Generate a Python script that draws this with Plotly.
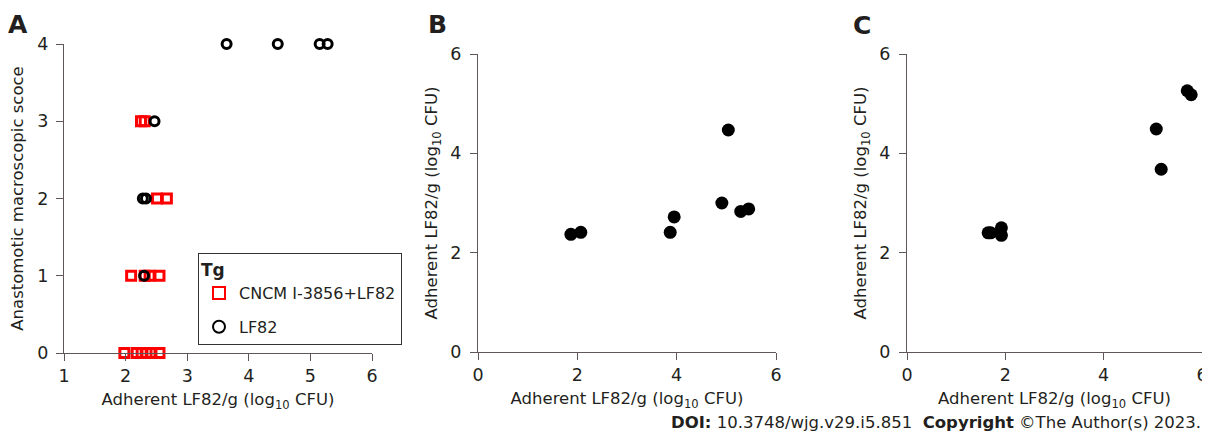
import plotly.graph_objects as go

# Panel A data
a_red_x = [1.98, 2.18, 2.26, 2.34, 2.42, 2.55, 2.09, 2.31, 2.39, 2.55, 2.51, 2.67, 2.25, 2.31]
a_red_y = [0, 0, 0, 0, 0, 0, 1, 1, 1, 1, 2, 2, 3, 3]
a_blk_x = [2.30, 2.28, 2.33, 2.47, 3.64, 4.47, 5.15, 5.28]
a_blk_y = [1, 2, 2, 3, 4, 4, 4, 4]

# Panel B data
b_x = [1.87, 2.07, 3.87, 3.95, 4.91, 5.04, 5.29, 5.45]
b_y = [2.37, 2.41, 2.41, 2.72, 3.00, 4.47, 2.83, 2.88]

# Panel C data
c_x = [1.65, 1.70, 1.92, 1.92, 5.07, 5.17, 5.70, 5.78]
c_y = [2.40, 2.40, 2.50, 2.35, 4.49, 3.68, 5.26, 5.18]

xt_a = [1, 2, 3, 4, 5, 6]
yt_a = [0, 1, 2, 3, 4]
t_bc = [0, 2, 4, 6]

FONT = "DejaVu Sans"
TXT = "#231f20"
LINE = "#5f5757"
W, H = 1210, 436
OFF = 8  # page body margin offset

fig = go.Figure()
fig.add_trace(go.Scatter(x=a_red_x, y=a_red_y, mode="markers", name="CNCM I-3856+LF82", legendgroup="g1",
                         marker=dict(symbol="square-open", size=9, color="#ff0000", line=dict(width=3)),
                         xaxis="x", yaxis="y", cliponaxis=False))
fig.add_trace(go.Scatter(x=a_blk_x, y=a_blk_y, mode="markers", name="LF82", legendgroup="g2",
                         marker=dict(symbol="circle-open", size=9, color="#000000", line=dict(width=3)),
                         xaxis="x", yaxis="y", cliponaxis=False))
fig.add_trace(go.Scatter(x=b_x, y=b_y, mode="markers", showlegend=False,
                         marker=dict(symbol="circle", size=13, color="#000000"),
                         xaxis="x2", yaxis="y2", cliponaxis=False))
fig.add_trace(go.Scatter(x=c_x, y=c_y, mode="markers", showlegend=False,
                         marker=dict(symbol="circle", size=13, color="#000000"),
                         xaxis="x3", yaxis="y3", cliponaxis=False))

def fx(p):
    return (p - OFF) / W

def fy(p):
    return 1 - (p - OFF) / H

def px_x(a, b):
    return [fx(a), fx(b)]

def px_y(top, bot):
    return [fy(bot), fy(top)]

ax_common = dict(showline=True, linecolor=LINE, linewidth=1, ticks="outside", ticklen=7,
                 tickcolor=LINE, showgrid=False, zeroline=False, automargin=False,
                 tickfont=dict(family=FONT, size=17.5, color=TXT))
xtitle = "Adherent LF82/g (log<sub>10</sub> CFU)"
TF = dict(size=16.5)

fig.update_layout(
    width=W, height=H, margin=dict(l=0, r=0, t=0, b=0, autoexpand=False),
    paper_bgcolor="white", plot_bgcolor="white",
    font=dict(family=FONT, size=16, color=TXT),
    xaxis=dict(domain=px_x(64, 372), range=[1, 6], tickvals=xt_a, anchor="y",
               title=dict(text=xtitle, standoff=8, font=TF), **ax_common),
    yaxis=dict(domain=px_y(44, 353), range=[0, 4], tickvals=yt_a, anchor="x", ticklabelstandoff=4,
               title=dict(text="Anastomotic macroscopic scoce", standoff=10, font=TF), **ax_common),
    xaxis2=dict(domain=px_x(478, 776), range=[0, 6], tickvals=t_bc, anchor="y2",
                title=dict(text=xtitle, standoff=8, font=TF), **ax_common),
    yaxis2=dict(domain=px_y(54, 352), range=[0, 6], tickvals=t_bc, anchor="x2", ticklabelstandoff=5,
                title=dict(text=xtitle, standoff=8, font=TF), **ax_common),
    xaxis3=dict(domain=px_x(907, 1202), range=[0, 6], tickvals=t_bc, anchor="y3",
                title=dict(text=xtitle, standoff=8, font=TF), **ax_common),
    yaxis3=dict(domain=px_y(54, 352), range=[0, 6], tickvals=t_bc, anchor="x3", ticklabelstandoff=5,
                title=dict(text=xtitle, standoff=8, font=TF), **ax_common),
    legend=dict(x=fx(198), y=fy(253), xanchor="left", yanchor="top",
                bordercolor="#333", borderwidth=1, bgcolor="white",
                title=dict(text="<b>Tg</b>", font=dict(size=17)),
                font=dict(family=FONT, size=16, color=TXT), itemsizing="constant",
                tracegroupgap=10, itemwidth=30),
    showlegend=True,
)

annots = [
    dict(text="<b>A</b>", x=18, y=24),
    dict(text="<b>B</b>", x=437, y=24),
    dict(text="<b>C</b>", x=862, y=25),
]
for a in annots:
    fig.add_annotation(xref="paper", yref="paper", showarrow=False, xanchor="center", yanchor="middle",
                       x=fx(a["x"]), y=fy(a["y"]), text=a["text"], font=dict(family=FONT, size=25, color=TXT))

fig.add_annotation(xref="x2", yref="y2", x=2.9, y=6.05, text="a", showarrow=False,
                   font=dict(family=FONT, size=16, color=TXT))
fig.add_annotation(xref="x3", yref="y3", x=2.9, y=6.05, text="a", showarrow=False,
                   font=dict(family=FONT, size=16, color=TXT))
fig.add_annotation(xref="paper", yref="paper", x=fx(1203), y=fy(422), xanchor="right", yanchor="middle",
                   text="<b>DOI:</b> 10.3748/wjg.v29.i5.851  <b>Copyright</b> ©The Author(s) 2023.",
                   showarrow=False, font=dict(family=FONT, size=16.5, color=TXT))

fig.write_html("out.html")
